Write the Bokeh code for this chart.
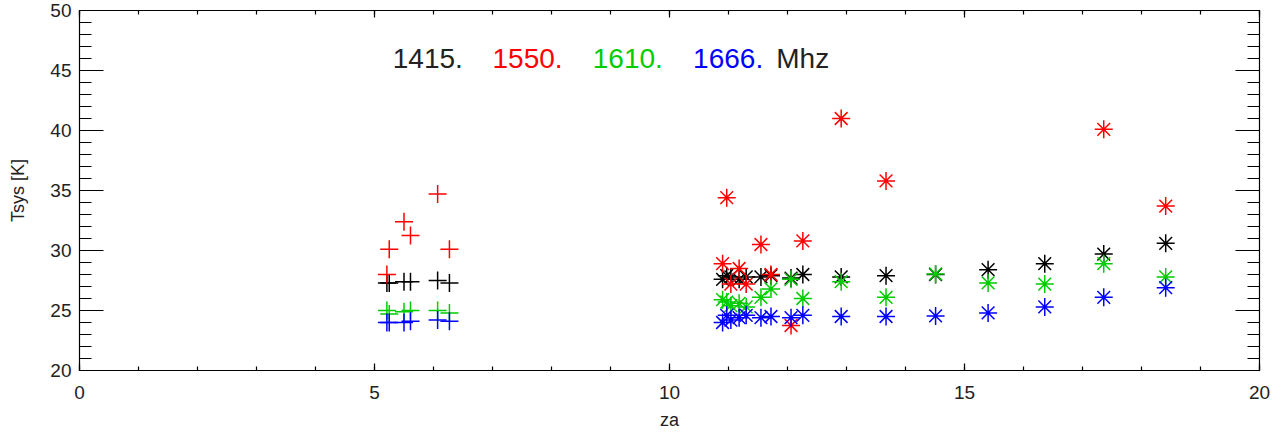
import math
from bokeh.plotting import figure
from bokeh.models import (LinearAxis, SingleIntervalTicker, Range1d, Label,
                          ColumnDataSource, CustomJSTickFormatter)
from bokeh.embed import file_html
from bokeh.resources import INLINE

nan = math.nan

# --- data ---
za_plus = [5.21, 5.25, 5.50, 5.61, 6.07, 6.27]
t1415_plus = [27.3, 27.3, 27.4, 27.4, 27.5, 27.3]
t1550_plus = [28.0, 30.1, 32.4, 31.25, 34.7, 30.1]
t1610_plus = [25.0, 24.7, 24.9, 25.0, 25.0, 24.8]
t1666_plus = [24.0, 24.0, 24.0, 24.1, 24.2, 24.1]

za_star = [10.90, 10.97, 11.04, 11.18, 11.30, 11.55, 11.72, 12.06, 12.26,
           12.91, 13.67, 14.51, 15.40, 16.36, 17.36, 18.41]
t1415_star = [27.6, 27.9, 27.8, 27.6, 27.8, 27.8, 27.9, 27.7, 28.0,
              27.8, 27.9, 28.0, 28.4, 28.9, 29.7, 30.6]
t1550_star = [28.9, 34.4, 27.2, 28.5, 27.2, 30.5, 28.0, 23.75, 30.8,
              41.0, 35.8, nan, nan, nan, 40.1, 33.7]
t1610_star = [25.9, 25.7, 25.4, 25.6, 25.3, 26.1, 26.8, 27.6, 26.0,
              27.4, 26.1, 28.05, 27.3, 27.2, 28.9, 27.8]
t1666_star = [24.0, 24.6, 24.2, 24.4, 24.6, 24.4, 24.5, 24.4, 24.6,
              24.5, 24.5, 24.55, 24.8, 25.3, 26.1, 26.9]

legend_labels = ["1415.", "1550.", "1610.", "1666.", "Mhz"]
legend_colors = ["#222222", "#ff0000", "#00cc00", "#0000ff", "#222222"]
series_colors = ["#000000", "#ff0000", "#00cc00", "#0000ff"]

FONT = "Liberation Sans"
TXT = "#222222"

p = figure(width=1280, height=416, frame_width=1180, frame_height=360,
           x_range=Range1d(0, 20), y_range=Range1d(20, 50),
           output_backend="svg", toolbar_location=None,
           min_border_left=79, min_border_right=21,
           min_border_top=10, min_border_bottom=46,
           x_axis_label="za", y_axis_label="Tsys [K]")
p.grid.visible = False
p.outline_line_color = "black"
p.background_fill_color = "white"
p.border_fill_color = "white"

def style_axis(ax, horizontal, labels=True):
    ax.axis_line_color = "black"
    ax.axis_line_width = 1.2
    ax.major_tick_line_color = "black"
    ax.minor_tick_line_color = "black"
    ax.major_tick_line_width = 1.2
    ax.minor_tick_line_width = 1.2
    ax.major_tick_out = 0
    ax.minor_tick_out = 0
    ax.ticker = SingleIntervalTicker(interval=5, num_minor_ticks=5)
    if horizontal:
        ax.major_tick_in = 7
        ax.minor_tick_in = 4
    else:
        ax.major_tick_in = 24
        ax.minor_tick_in = 12
    ax.major_label_text_font = FONT
    ax.major_label_text_color = TXT
    ax.major_label_text_font_size = "19px"
    ax.axis_label_text_font = FONT
    ax.axis_label_text_color = TXT
    ax.axis_label_text_font_style = "normal"
    ax.axis_label_text_font_size = "18px"
    if not labels:
        ax.formatter = CustomJSTickFormatter(code="return ''")
        ax.major_label_standoff = 0

xa = p.xaxis[0]
ya = p.yaxis[0]
style_axis(xa, True)
style_axis(ya, False)
xa.major_label_standoff = 15
xa.axis_label_standoff = 8
ya.major_label_standoff = 8
ya.axis_label_standoff = 19

top = LinearAxis()
style_axis(top, True, labels=False)
p.add_layout(top, "above")
right = LinearAxis()
style_axis(right, False, labels=False)
p.add_layout(right, "right")

plus_series = [t1415_plus, t1550_plus, t1610_plus, t1666_plus]
star_series = [t1415_star, t1550_star, t1610_star, t1666_star]

for ys, col in zip(plus_series, series_colors):
    src = ColumnDataSource(dict(x=za_plus, y=ys))
    p.scatter("x", "y", source=src, marker="cross", size=18,
              line_color=col, line_width=1.5)
for ys, col in zip(star_series, series_colors):
    src = ColumnDataSource(dict(x=za_star, y=ys))
    p.scatter("x", "y", source=src, marker="asterisk", size=18,
              line_color=col, line_width=1.5)

legend_x = [5.31, 7.0, 8.70, 10.40, 11.81]
for lx, lab, col in zip(legend_x, legend_labels, legend_colors):
    p.add_layout(Label(x=lx, y=46.0, text=lab, text_color=col,
                       text_font=FONT, text_font_size="28px",
                       text_baseline="middle", text_align="left"))

open("out.html", "w").write(file_html(p, INLINE))
